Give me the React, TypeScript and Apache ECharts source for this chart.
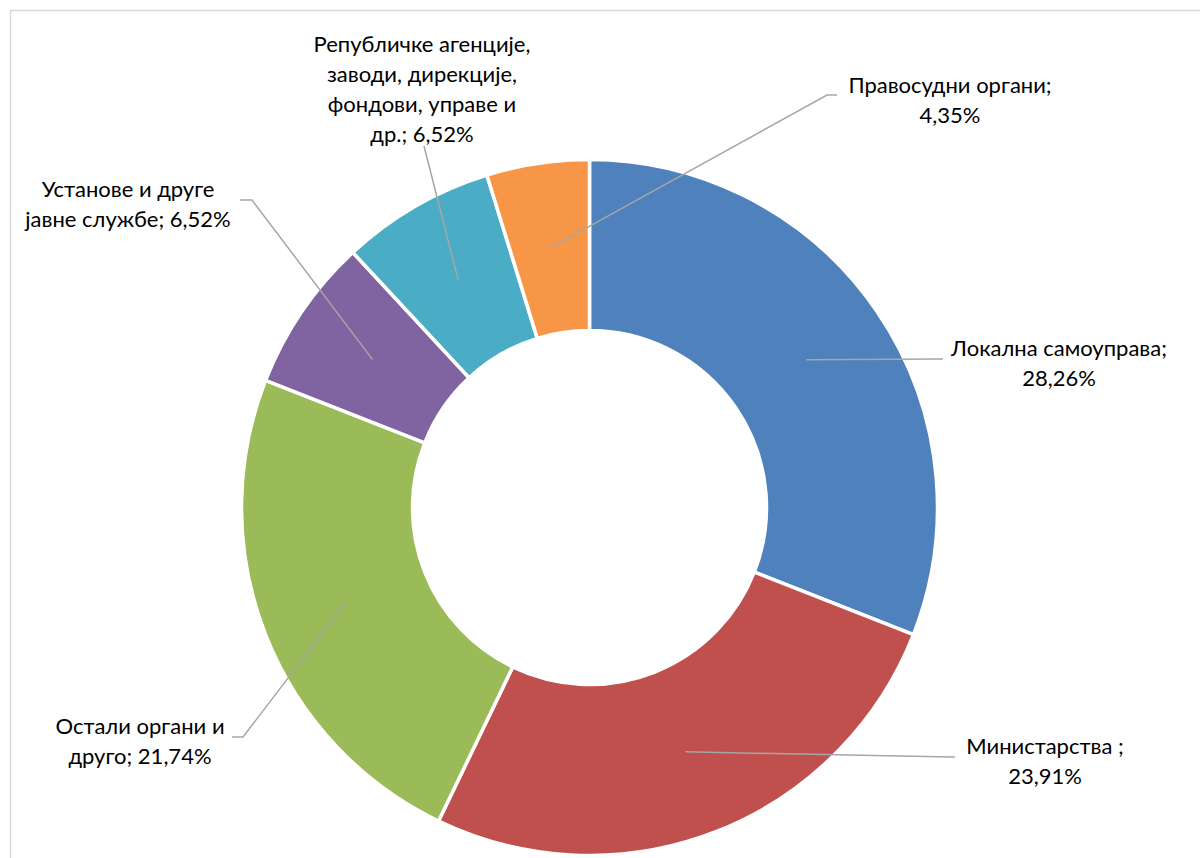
import React, { useEffect, useRef } from "react";
import * as echarts from "echarts";

const categories = [
  "Локална самоуправа",
  "Министарства",
  "Остали органи и друго",
  "Установе и друге јавне службе",
  "Републичке агенције, заводи, дирекције, фондови, управе и др.",
  "Правосудни органи",
];
const values = [28.26, 23.91, 21.74, 6.52, 6.52, 4.35];
const labelPrefixes = [
  "Локална самоуправа;\n",
  "Министарства ;\n",
  "Остали органи и\nдруго; ",
  "Установе и друге\nјавне службе; ",
  "Републичке агенције,\nзаводи, дирекције,\nфондови, управе и\nдр.; ",
  "Правосудни органи;\n",
];
const colors = ["#4f81bd", "#c0504d", "#9bbb59", "#8064a2", "#4bacc6", "#f79646"];

// label layout (centre of text block) and leader-line bend/end points
const labelCenters = [
  [1059, 362],
  [1045, 760],
  [140, 740],
  [128, 203],
  [422, 88],
  [950, 99],
];
const leaderEnds = [
  [[937, 359], [943, 359]],
  [[950, 757], [955, 757]],
  [[243, 737], [232, 737]],
  [[252, 200], [240, 200]],
  [[425, 150], [424, 146]],
  [[827, 95], [837, 95]],
];

const CENTER = [589.5, 507.5];
const R_IN = 177;
const R_OUT = 348;

const fmt = (v: number) => v.toFixed(2).replace(".", ",") + "%";

export default function App() {
  const ref = useRef<HTMLDivElement>(null);
  useEffect(() => {
    if (!ref.current) return;
    const chart = echarts.init(ref.current, null, { renderer: "svg" });
    const data = categories.map((c, i) => ({ name: c, value: values[i] }));
    const total = values.reduce((a, b) => a + b, 0);
    // leader line anchors: middle of the ring at each slice's mid-angle
    const anchors: number[][] = [];
    let acc = 0;
    values.forEach((v) => {
      const mid = (acc + v / 2) / total;
      acc += v;
      const ang = mid * Math.PI * 2;
      const r = (R_IN + R_OUT) / 2;
      anchors.push([CENTER[0] + r * Math.sin(ang), CENTER[1] - r * Math.cos(ang)]);
    });
    const leaders = anchors.map((a, i) => ({
      type: "polyline",
      z: 100,
      silent: true,
      shape: { points: [a, leaderEnds[i][0], leaderEnds[i][1]] },
      style: { stroke: "#a6a6a6", lineWidth: 1.5, fill: "none" },
    }));
    chart.setOption({
      animation: false,
      backgroundColor: "#ffffff",
      graphic: [
        {
          type: "rect",
          shape: { x: 10.5, y: 10.5, width: 1400, height: 1000 },
          style: { fill: "none", stroke: "#d9d9d9", lineWidth: 1.5 },
          silent: true,
        },
        ...leaders,
      ],
      series: [
        {
          type: "pie",
          center: CENTER,
          radius: [R_IN, R_OUT],
          startAngle: 90,
          clockwise: true,
          silent: true,
          avoidLabelOverlap: false,
          label: {
            show: true,
            position: "outside",
            formatter: (p: any) => labelPrefixes[p.dataIndex] + fmt(p.value),
            fontFamily: "Lato, 'Open Sans', sans-serif",
            fontSize: 22,
            lineHeight: 30,
            color: "#000000",
            align: "center",
          },
          labelLine: { show: false },
          labelLayout: (params: any) => {
            const i = params.dataIndex;
            return {
              x: labelCenters[i][0],
              y: labelCenters[i][1],
              align: "center",
              verticalAlign: "middle",
            };
          },
          emphasis: { disabled: true },
          itemStyle: { borderColor: "#ffffff", borderWidth: 3.5 },
          data: data.map((d, i) => ({ ...d, itemStyle: { color: colors[i] } })),
        },
      ],
    });
    return () => chart.dispose();
  }, []);
  return (
    <div
      ref={ref}
      style={{ position: "fixed", left: 0, top: 0, width: 1200, height: 858 }}
    />
  );
}
